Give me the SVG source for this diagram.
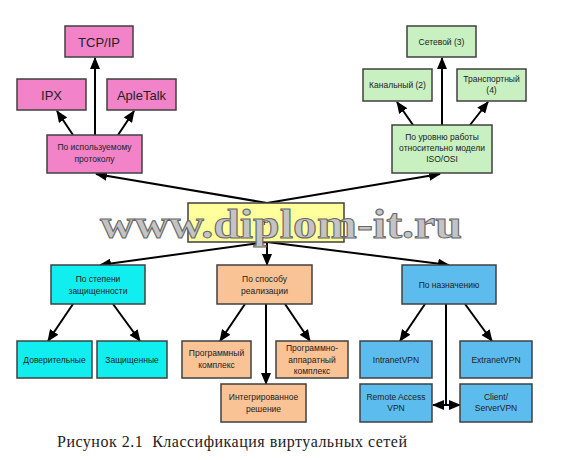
<svg xmlns="http://www.w3.org/2000/svg" width="564" height="460" viewBox="0 0 564 460">
<defs>
<marker id="ah" markerWidth="12" markerHeight="10" refX="11" refY="5" orient="auto-start-reverse" markerUnits="userSpaceOnUse">
<path d="M0,0 L12,5 L0,10 z" fill="#000"/>
</marker>
<style>
.b{stroke:#404040;stroke-width:1.5}
.pk{fill:#f283c9}
.gr{fill:#c8f0c0}
.cy{fill:#10eef0}
.or{fill:#f9c396}
.bl{fill:#5cbcee}
.ye{fill:#ffff9c}
.t{font-family:"Liberation Sans",Arial,sans-serif;font-size:8.5px;fill:#222;text-anchor:middle;dominant-baseline:central}
.tl{font-family:"Liberation Sans",Arial,sans-serif;font-size:13px;fill:#222;text-anchor:middle;dominant-baseline:central}
.c line,.c path{stroke:#000;stroke-width:2;fill:none}
</style>
</defs>
<rect width="564" height="460" fill="#fff"/>

<g class="c" id="connectors">
<line x1="267" y1="203" x2="96" y2="174" marker-end="url(#ah)"/>
<line x1="267" y1="203" x2="440" y2="174" marker-end="url(#ah)"/>
<line x1="95" y1="135" x2="95" y2="58" marker-end="url(#ah)"/>
<line x1="73" y1="135" x2="57" y2="111" marker-end="url(#ah)"/>
<line x1="118" y1="135" x2="134" y2="111" marker-end="url(#ah)"/>
<line x1="442" y1="125" x2="442" y2="58" marker-end="url(#ah)"/>
<line x1="413" y1="125" x2="397" y2="102" marker-end="url(#ah)"/>
<line x1="470" y1="125" x2="488" y2="102" marker-end="url(#ah)"/>
<line x1="267" y1="242" x2="100" y2="265" marker-end="url(#ah)"/>
<line x1="267" y1="242" x2="267" y2="265" marker-end="url(#ah)"/>
<line x1="267" y1="242" x2="449" y2="265" marker-end="url(#ah)"/>
<line x1="73" y1="304" x2="48" y2="341" marker-end="url(#ah)"/>
<line x1="113" y1="304" x2="140" y2="341" marker-end="url(#ah)"/>
<line x1="245" y1="304" x2="220" y2="341" marker-end="url(#ah)"/>
<line x1="266" y1="304" x2="266" y2="384" marker-end="url(#ah)"/>
<line x1="285" y1="304" x2="310" y2="341" marker-end="url(#ah)"/>
<line x1="425" y1="304" x2="400" y2="341" marker-end="url(#ah)"/>
<line x1="465" y1="304" x2="492" y2="341" marker-end="url(#ah)"/>
<line x1="446" y1="304" x2="446" y2="405"/>
<line x1="433" y1="405" x2="460" y2="405" marker-start="url(#ah)" marker-end="url(#ah)"/>
</g>

<g id="n-tcpip"><rect class="b pk" x="65" y="26" width="68" height="31"/><text class="tl" x="99" y="42">TCP/IP</text></g>
<g id="n-ipx"><rect class="b pk" x="17" y="79" width="69" height="31"/><text class="tl" x="51.5" y="95">IPX</text></g>
<g id="n-apletalk"><rect class="b pk" x="107" y="79" width="69" height="31"/><text class="tl" x="141.5" y="95">ApleTalk</text></g>
<g id="n-protocol"><rect class="b pk" x="47" y="135" width="95" height="38"/><text class="t" x="94.5" y="147">По используемому</text><text class="t" x="94.5" y="159">протоколу</text></g>

<g id="n-net"><rect class="b gr" x="407" y="26" width="69" height="31"/><text class="t" x="441.5" y="42">Сетевой (3)</text></g>
<g id="n-chan"><rect class="b gr" x="363" y="69" width="69" height="32"/><text class="t" x="397.5" y="85">Канальный (2)</text></g>
<g id="n-trans"><rect class="b gr" x="457" y="69" width="69" height="32"/><text class="t" x="491.5" y="79">Транспортный</text><text class="t" x="491.5" y="90">(4)</text></g>
<g id="n-iso"><rect class="b gr" x="392" y="125" width="100" height="48"/><text class="t" x="442" y="137">По уровню работы</text><text class="t" x="442" y="148">относительно модели</text><text class="t" x="442" y="159">ISO/OSI</text></g>

<g id="n-vpn"><rect class="b ye" x="188" y="203" width="156" height="39"/><text class="t" x="266.5" y="222" style="font-size:9px">VPN</text></g>

<g id="n-sec"><rect class="b cy" x="51" y="265" width="94" height="39"/><text class="t" x="98" y="279">По степени</text><text class="t" x="98" y="291">защищенности</text></g>
<g id="n-trust"><rect class="b cy" x="17" y="341" width="75" height="37"/><text class="t" x="54.5" y="360">Доверительные</text></g>
<g id="n-prot"><rect class="b cy" x="97" y="341" width="70" height="37"/><text class="t" x="132" y="360">Защищенные</text></g>

<g id="n-impl"><rect class="b or" x="217" y="265" width="95" height="39"/><text class="t" x="264.5" y="279">По способу</text><text class="t" x="264.5" y="291">реализации</text></g>
<g id="n-soft"><rect class="b or" x="182" y="341" width="69" height="37"/><text class="t" x="216.5" y="353">Программный</text><text class="t" x="216.5" y="365">комплекс</text></g>
<g id="n-hw"><rect class="b or" x="276" y="341" width="72" height="37"/><text class="t" x="312" y="348">Программно-</text><text class="t" x="312" y="359.5">аппаратный</text><text class="t" x="312" y="371">комплекс</text></g>
<g id="n-integ"><rect class="b or" x="221" y="384" width="85" height="38"/><text class="t" x="263.5" y="397">Интегрированное</text><text class="t" x="263.5" y="409">решение</text></g>

<g id="n-purp"><rect class="b bl" x="402" y="265" width="94" height="39"/><text class="t" x="449" y="285">По назначению</text></g>
<g id="n-intra"><rect class="b bl" x="360" y="341" width="72" height="37"/><text class="t" x="396" y="360">IntranetVPN</text></g>
<g id="n-extra"><rect class="b bl" x="460" y="341" width="72" height="37"/><text class="t" x="496" y="360">ExtranetVPN</text></g>
<g id="n-remote"><rect class="b bl" x="360" y="384" width="72" height="38"/><text class="t" x="396" y="397">Remote Access</text><text class="t" x="396" y="408">VPN</text></g>
<g id="n-client"><rect class="b bl" x="460" y="384" width="72" height="38"/><text class="t" x="496" y="397">Client/</text><text class="t" x="496" y="408">ServerVPN</text></g>

<text x="100" y="238" textLength="362" lengthAdjust="spacingAndGlyphs" style="font-family:'Liberation Serif','Times New Roman',serif;font-size:42px;font-weight:bold;fill:#c4c4c4;stroke:#666;stroke-width:1">www.diplom-it.ru</text>

<text x="57" y="447" xml:space="preserve" textLength="350" lengthAdjust="spacing" style="font-family:'Liberation Serif','Times New Roman',serif;font-size:16px;fill:#222">Рисунок 2.1  Классификация виртуальных сетей</text>
</svg>
